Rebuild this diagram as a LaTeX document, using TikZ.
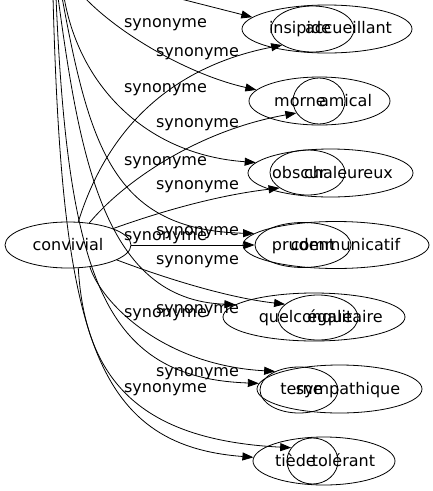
\documentclass[tikz,border=0pt]{standalone}
\usepackage{fontspec}
\setmainfont{DejaVu Sans}
\usetikzlibrary{arrows.meta,shapes.geometric}
\begin{document}
\begin{tikzpicture}[x=1pt,y=-1pt,
  ell/.style={draw, ellipse, inner sep=0pt, line width=0.8pt},
  txt/.style={anchor=base, inner sep=0pt, font=\fontsize{16}{19}\selectfont},
  syn/.style={draw, line width=0.8pt, -{Triangle[length=11pt,width=8pt]}}
]
\useasboundingbox (0,0) rectangle (433,491);
% source node
\node[ell, minimum width=126pt, minimum height=46pt, font=\fontsize{16}{19}\selectfont] (conv) at (68,245) {convivial};
% target ellipses (large / small of each overlapping pair)
\node[ell, minimum width=170pt, minimum height=48pt] (P1L) at (327,29) {};
\node[ell, minimum width=83pt,  minimum height=46pt] (P1S) at (312.5,29) {};
\node[ell, minimum width=141pt, minimum height=48pt] (P2L) at (319.5,101) {};
\node[ell, minimum width=52pt,  minimum height=46pt] (P2S) at (319,101) {};
\node[ell, minimum width=165pt, minimum height=48pt] (P3L) at (330.5,173) {};
\node[ell, minimum width=75pt,  minimum height=45pt] (P3S) at (307.5,172.5) {};
\node[ell, minimum width=186pt, minimum height=47pt] (P4L) at (336,245) {};
\node[ell, minimum width=96pt,  minimum height=45pt] (P4S) at (303,245) {};
\node[ell, minimum width=182pt, minimum height=48pt] (P5L) at (314,317) {};
\node[ell, minimum width=80pt,  minimum height=45pt] (P5S) at (318,317.5) {};
\node[ell, minimum width=165pt, minimum height=48pt] (P6L) at (339.5,389) {};
\node[ell, minimum width=78pt,  minimum height=46pt] (P6S) at (299,390) {};
\node[ell, minimum width=142pt, minimum height=48pt] (P7L) at (324,461) {};
\node[ell, minimum width=51pt,  minimum height=46pt] (P7S) at (312.5,461) {};
% node texts
\node[txt] (t1a) at (300,33) {insipide};
\node[txt] (t1b) at (348.5,33) {accueillant};
\node[txt] (t2a) at (300,106) {morne};
\node[txt] (t2b) at (345.5,106) {amical};
\node[txt] (t3a) at (299,178) {obscur};
\node[txt] (t3b) at (348.5,178) {chaleureux};
\node[txt] (t4a) at (303.5,250) {prudent};
\node[txt] (t4b) at (345.5,250) {communicatif};
\node[txt] (t5a) at (305.5,322) {quelconque};
\node[txt] (t5b) at (345,322) {égalitaire};
\node[txt] (t6a) at (301.5,394) {terne};
\node[txt] (t6b) at (348,394) {sympathique};
\node[txt] (t7a) at (295.5,466) {tiède};
\node[txt] (t7b) at (343.5,466) {tolérant};
% free ends of the edges coming from above the picture
\coordinate (s1) at (173,-3);
\coordinate (s2) at (84,-3);
\coordinate (s3) at (64,-3);
\coordinate (s4) at (62,-3);
\coordinate (s5) at (58,-3);
\coordinate (s6) at (56,-3);
\coordinate (s7) at (53,-3);
% edges from above
\draw[syn] (s1) -- (P1L.171.4);
\draw[syn] (s2) .. controls (120,35) and (190,75) .. (P2L.170.6);
\draw[syn] (s3) .. controls (80,90) and (150,155) .. (P3L.172.2);
\draw[syn] (s4) .. controls (90,150) and (115,230) .. (P4L.172.5);
\draw[syn] (s5) .. controls (80,160) and (105,300) .. (P5L.171.4);
\draw[syn] (s6) .. controls (68,280) and (105,378) .. (P6L.176.7);
\draw[syn] (s7) .. controls (62,330) and (92,445) .. (P7L.177.8);
% edges from convivial
\draw[syn] (conv.66.5) .. controls (110,120) and (180,65) .. (P1S.208.5);
\draw[syn] (conv.46.3) .. controls (125,180) and (200,130) .. (P2S.208.6);
\draw[syn] (conv.20.7) .. controls (165,210) and (220,195) .. (P3S.209.4);
\draw[syn] (conv.east) -- (P4S.west);
\draw[syn] (conv.-17) .. controls (170,280) and (230,298) .. (P5S.158);
\draw[syn] (conv.-45) .. controls (100,300) and (160,365) .. (P6S.142);
\draw[syn] (conv.-66.5) .. controls (85,380) and (140,440) .. (P7S.148);
% edge labels
\node[txt] (l1)  at (165.5,27.5) {synonyme};
\node[txt] (l2)  at (197.5,56) {synonyme};
\node[txt] (l3)  at (165.5,92.5) {synonyme};
\node[txt] (l4)  at (197.5,127.5) {synonyme};
\node[txt] (l5)  at (165.5,165) {synonyme};
\node[txt] (l6)  at (197.5,189) {synonyme};
\node[txt] (l7)  at (165.5,240) {synonyme};
\node[txt] (l8)  at (197.5,235.5) {synonyme};
\node[txt] (l9)  at (197.5,264) {synonyme};
\node[txt] (l10) at (165.5,317.5) {synonyme};
\node[txt] (l11) at (197.5,313.5) {synonyme};
\node[txt] (l12) at (197.5,376.5) {synonyme};
\node[txt] (l13) at (165.5,392.5) {synonyme};
\end{tikzpicture}
\end{document}
